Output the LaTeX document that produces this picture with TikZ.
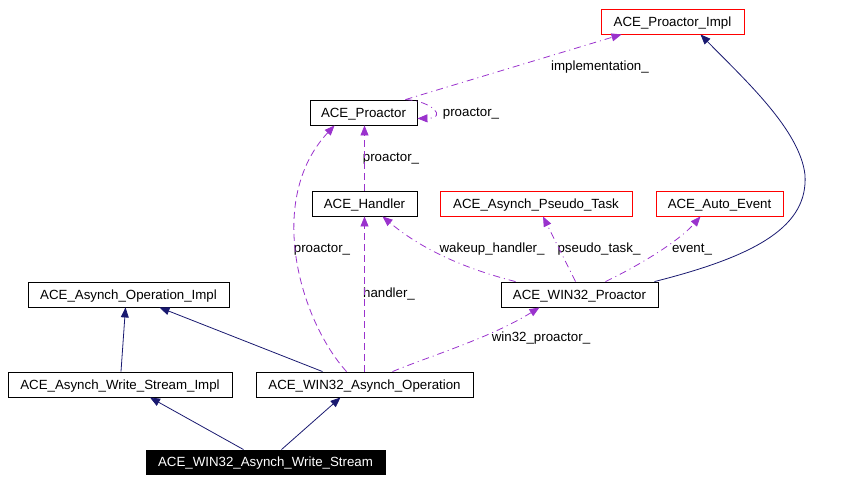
\documentclass[tikz,border=0pt]{standalone}
\usepackage{fontspec}
\setmainfont{Liberation Sans}
\usetikzlibrary{arrows.meta}
\definecolor{edgeP}{HTML}{9A32CD}
\definecolor{edgeN}{HTML}{191970}
\begin{document}
\begin{tikzpicture}[x=1pt,y=-1pt,
  box/.style={draw=black, line width=0.9pt, minimum height=25pt, inner sep=0pt,
    text height=9.5pt, text depth=0pt,
    font=\fontsize{13.3}{15}\selectfont, fill=white},
  redbox/.style={box, draw=red},
  lbl/.style={inner sep=0pt, text height=9.5pt, text depth=0pt, font=\fontsize{13.3}{15}\selectfont},
  usedash/.style={draw=edgeP, line width=0.8pt, dash pattern=on 7pt off 4pt,
    -{Triangle[length=10pt,width=8pt]}},
  usedot/.style={draw=edgeP, line width=0.8pt, dash pattern=on 7pt off 4pt on 1pt off 4pt,
    -{Triangle[length=10pt,width=8pt]}},
  inh/.style={draw=edgeN, line width=0.8pt, -{Triangle[length=10pt,width=8pt]}}]
\useasboundingbox (0,0) rectangle (842,482);

% nodes
\node[redbox, minimum width=143pt] (impl) at (672.5,21.5) {ACE\_Proactor\_Impl};
\node[box, minimum width=107pt] (proactor) at (363.5,112.5) {ACE\_Proactor};
\node[box, minimum width=105pt] (handler) at (364.5,203.5) {ACE\_Handler};
\node[redbox, minimum width=192pt] (pseudo) at (536,203.5) {ACE\_Asynch\_Pseudo\_Task};
\node[redbox, minimum width=127pt] (autoevent) at (719.5,203.5) {ACE\_Auto\_Event};
\node[box, minimum width=157pt] (w32proactor) at (579.5,294.5) {ACE\_WIN32\_Proactor};
\node[box, minimum width=201pt] (opimpl) at (128.5,294.5) {ACE\_Asynch\_Operation\_Impl};
\node[box, minimum width=224pt] (wsimpl) at (120,384.5) {ACE\_Asynch\_Write\_Stream\_Impl};
\node[box, minimum width=217pt] (w32op) at (364.5,384.5) {ACE\_WIN32\_Asynch\_Operation};
\node[box, minimum width=239pt, minimum height=24pt, fill=black, text=white] (w32ws) at (265.5,462) {ACE\_WIN32\_Asynch\_Write\_Stream};

% labels
\node[lbl] (limpl) at (600,66) {implementation\_};
\node[lbl] (lself) at (471,112) {proactor\_};
\node[lbl] (lhp) at (391,157) {proactor\_};
\node[lbl] (lcurve) at (322,248) {proactor\_};
\node[lbl] (lhandler) at (389,293) {handler\_};
\node[lbl] (lwake) at (492,248) {wakeup\_handler\_};
\node[lbl] (lpseudo) at (599,248) {pseudo\_task\_};
\node[lbl] (levent) at (692,248) {event\_};
\node[lbl] (lw32p) at (541,337) {win32\_proactor\_};

% usage edges
\draw[usedot] ([xshift=42pt]proactor.north) -- ([xshift=-51pt]impl.south);
\draw[usedot] ([xshift=42pt]proactor.north) .. controls (432,101) and (448,118) .. ([yshift=-6pt]proactor.east);
\draw[usedash] (handler.north) -- (handler.north |- proactor.south);
\draw[usedash] ([xshift=-18pt]w32op.north) .. controls (300,320) and (265,200) .. ([xshift=-29pt]proactor.south);
\draw[usedash] (w32op.north) -- (handler.south);
\draw[usedot] ([xshift=-64pt]w32proactor.north) .. controls (462,268) and (420,248) .. ([xshift=18pt]handler.south);
\draw[usedot] ([xshift=-4pt]w32proactor.north) -- ([xshift=7pt]pseudo.south);
\draw[usedot] ([xshift=26pt]w32proactor.north) .. controls (638,266) and (678,242) .. ([xshift=-19pt]autoevent.south);
\draw[usedot] ([xshift=28pt]w32op.north) .. controls (430,356) and (490,338) .. ([xshift=-40pt]w32proactor.south);

% inheritance edges
\draw[inh] ([xshift=75pt]w32proactor.north) .. controls (760,255) and (808,225) .. (805,175)
  .. controls (800,130) and (745,80) .. ([xshift=28pt]impl.south);
\draw[inh] ([xshift=1pt]wsimpl.north) -- ([xshift=-3pt]opimpl.south);
\draw[inh] ([xshift=-42pt]w32op.north) -- ([xshift=31pt]opimpl.south);
\draw[inh] ([xshift=-22pt]w32ws.north) -- ([xshift=30pt]wsimpl.south);
\draw[inh] ([xshift=16pt]w32ws.north) -- ([xshift=-24pt]w32op.south);
\end{tikzpicture}
\end{document}
